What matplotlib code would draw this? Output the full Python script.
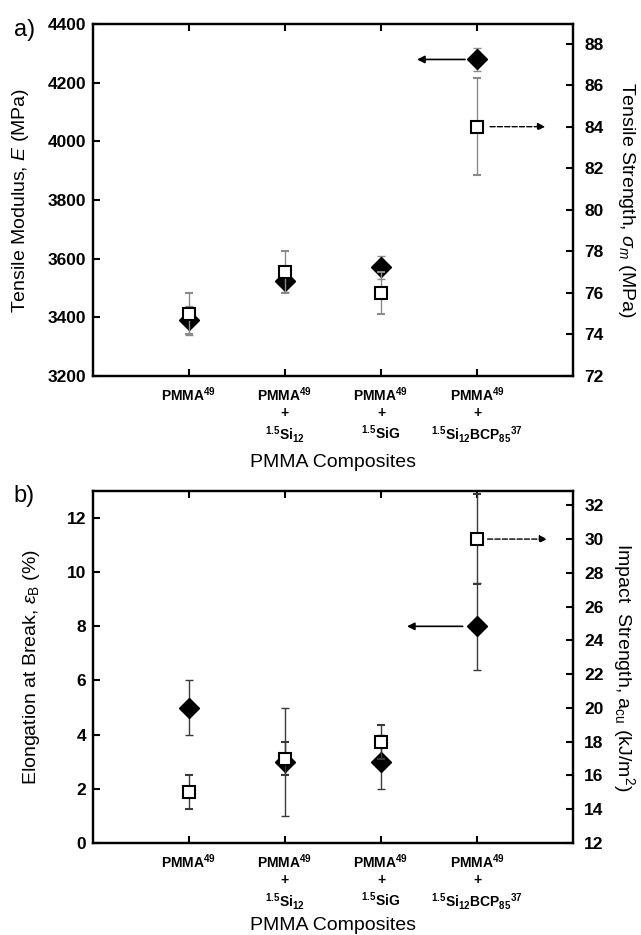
import numpy as np
import matplotlib.pyplot as plt

plt.rcParams['font.family'] = ['Liberation Sans', 'DejaVu Sans']
plt.rcParams['mathtext.fontset'] = 'custom'
plt.rcParams['mathtext.rm'] = 'Liberation Sans'
plt.rcParams['mathtext.it'] = 'Liberation Sans:italic'
plt.rcParams['mathtext.bf'] = 'Liberation Sans:bold'

categories = [r'PMMA$^{\mathbf{49}}$',
              'PMMA$^{\\mathbf{49}}$\n+\n$^{\\mathbf{1.5}}$Si$_{\\mathbf{12}}$',
              'PMMA$^{\\mathbf{49}}$\n+\n$^{\\mathbf{1.5}}$SiG',
              'PMMA$^{\\mathbf{49}}$\n+\n$^{\\mathbf{1.5}}$Si$_{\\mathbf{12}}$BCP$_{\\mathbf{85}}$$^{\\mathbf{37}}$']

# panel a
modulus = [3390, 3525, 3570, 4280]
modulus_err = [50, 40, 40, 38]
strength = [75.0, 77.0, 76.0, 84.0]
strength_err = [1.0, 1.0, 1.0, 2.35]

# panel b
elongation = [5, 3, 3, 8]
elongation_err = [1, 2, 1, 1.6]
impact = [15, 17, 18, 30]
impact_err = [1, 1, 1, 2.65]

x = np.arange(1, len(categories) + 1)


def style_axes(ax, ax2, xlabelpad):
    for a in (ax, ax2):
        for s in a.spines.values():
            s.set_linewidth(1.6)
    ax.tick_params(axis='both', direction='in', length=5, width=1.5,
                   top=True, right=False)
    ax.tick_params(axis='y', labelsize=12.5, pad=5)
    ax2.tick_params(axis='y', direction='in', length=5, width=1.5,
                    labelsize=12.5, pad=8)
    ax.tick_params(axis='x', labelsize=10, pad=7)
    for lab in ax.get_yticklabels() + ax2.get_yticklabels() + ax.get_xticklabels():
        lab.set_fontweight('bold')
    ax.set_xlim(0, 5)
    ax.set_xticks(x)
    ax.set_xticklabels(categories)
    ax.set_xlabel('PMMA Composites', fontsize=14, labelpad=xlabelpad)


def panel(ax, left, left_err, right, right_err, ecol):
    ax2 = ax.twinx()
    ax.errorbar(x, left, yerr=left_err, fmt='D', color='black', ms=10,
                ecolor=ecol, elinewidth=1, capsize=3, capthick=1, zorder=3)
    ax2.errorbar(x, right, yerr=right_err, fmt='s', mfc='white', mec='black',
                 mew=1.5, ms=8.5, ecolor=ecol, elinewidth=1, capsize=3,
                 capthick=1, zorder=3)
    return ax2


fig = plt.figure(figsize=(6.41, 9.35), dpi=100)

ax_a = fig.add_axes([0.145, 0.598, 0.749, 0.376])
ax_a2 = panel(ax_a, modulus, modulus_err, strength, strength_err, '#8a8a8a')
ax_a.set_ylim(3200, 4400)
ax_a.set_yticks(np.arange(3200, 4401, 200))
ax_a2.set_ylim(72, 88.93)
ax_a2.set_yticks(np.arange(72, 89, 2))
ax_a.set_ylabel(r'Tensile Modulus, $\mathit{E}$ (MPa)', fontsize=14, labelpad=12)
ax_a2.set_ylabel(r'Tensile Strength, $\sigma_{\mathit{m}}$ (MPa)', fontsize=14,
                 rotation=270, labelpad=24)
style_axes(ax_a, ax_a2, 7)
ax_a.annotate('', xy=(3.375, modulus[3]), xytext=(3.875, modulus[3]),
              arrowprops=dict(arrowstyle='-|>', lw=1.2, color='black',
                              mutation_scale=11, shrinkA=0, shrinkB=0))
ax_a2.annotate('', xy=(4.71, strength[3]), xytext=(4.135, strength[3]),
               arrowprops=dict(arrowstyle='-|>', lw=1.0, ls='--', color='black',
                               mutation_scale=11, shrinkA=0, shrinkB=0))

ax_b = fig.add_axes([0.145, 0.0985, 0.749, 0.3764])
ax_b2 = panel(ax_b, elongation, elongation_err, impact, impact_err, '#3a3a3a')
ax_b.set_ylim(0, 13)
ax_b.set_yticks(np.arange(0, 13, 2))
ax_b2.set_ylim(12, 32.85)
ax_b2.set_yticks(np.arange(12, 33, 2))
ax_b.set_ylabel(r'Elongation at Break, $\varepsilon_{\mathrm{B}}$ (%)', fontsize=14,
                labelpad=18)
ax_b2.set_ylabel(r'Impact  Strength, a$_{\mathrm{cu}}$ (kJ/m$^{2}$)', fontsize=14,
                 rotation=270, labelpad=24)
style_axes(ax_b, ax_b2, 4)
ax_b.annotate('', xy=(3.27, elongation[3]), xytext=(3.85, elongation[3]),
              arrowprops=dict(arrowstyle='-|>', lw=1.2, color='black',
                              mutation_scale=11, shrinkA=0, shrinkB=0))
ax_b2.annotate('', xy=(4.73, impact[3]), xytext=(4.11, impact[3]),
               arrowprops=dict(arrowstyle='-|>', lw=1.0, ls='--', color='black',
                               mutation_scale=11, shrinkA=0, shrinkB=0))

fig.text(0.038, 0.968, 'a)', fontsize=17, ha='center', va='center')
fig.text(0.038, 0.470, 'b)', fontsize=17, ha='center', va='center')

fig.savefig('out.png', dpi=100)
